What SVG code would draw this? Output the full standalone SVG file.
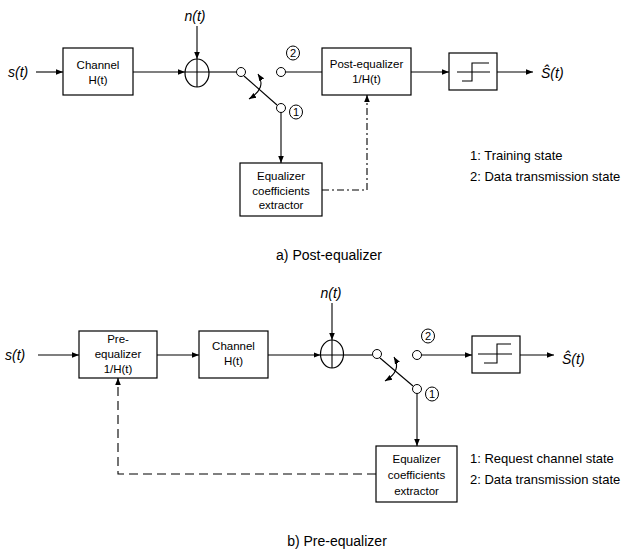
<svg xmlns="http://www.w3.org/2000/svg" width="624" height="556" viewBox="0 0 624 556">
<defs>
<marker id="ah" viewBox="0 0 10 10" refX="10" refY="5" markerWidth="7" markerHeight="7" markerUnits="userSpaceOnUse" orient="auto-start-reverse">
<path d="M0,1 L10,5 L0,9 z" fill="#000"/>
</marker>
<style>
text{font-family:"Liberation Sans",Arial,sans-serif;fill:#000}
.bt{font-size:11.5px;text-anchor:middle}
.it{font-style:italic;font-size:14px}
.lg{font-size:13px}
.cap{font-size:14px;text-anchor:middle}
.num{font-size:11px;text-anchor:middle}
.box{fill:#fff;stroke:#000;stroke-width:1.2}
.ln{fill:none;stroke:#000;stroke-width:1.1}
.arr{fill:none;stroke:#000;stroke-width:1.1;marker-end:url(#ah)}
.sw{fill:#fff;stroke:#000;stroke-width:1}
.lab{fill:none;stroke:#000;stroke-width:1}
</style>
</defs>
<rect width="624" height="556" fill="#fff"/>

<!-- ===== a) Post-equalizer ===== -->
<g id="connectors-a">
<path class="arr" d="M36,72 H63"/>
<path class="arr" d="M133,72 H185"/>
<path class="arr" d="M197,26 V59"/>
<path class="ln" d="M209,72 H236.5"/>
<path class="ln" d="M244,76 L277,105"/>
<path class="ln" d="M285.5,72 H322"/>
<path class="arr" d="M411,72 H449"/>
<path class="arr" d="M497,72 H533"/>
<path class="arr" d="M281,112.5 V163"/>
<path class="arr" d="M322,190 H367 V95" stroke-dasharray="7,3,2,3" stroke-width="1.5"/>
<path class="ln" d="M258,74 Q267,88 249,99" marker-start="url(#ah)" marker-end="url(#ah)"/>
</g>
<g id="src-a"><text class="it" x="8" y="77">s(t)</text></g>
<g id="noise-a"><text class="it" x="195" y="21" text-anchor="middle">n(t)</text></g>
<g id="channel-a">
<rect class="box" x="63" y="48" width="70" height="47"/>
<text class="bt" x="98" y="69">Channel</text>
<text class="bt" x="98" y="84">H(t)</text>
</g>
<g id="adder-a">
<ellipse class="box" cx="197" cy="73" rx="12" ry="14"/>
<path class="ln" d="M185,72 H209 M197,59 V87"/>
</g>
<g id="switch-a">
<circle class="sw" cx="241" cy="72" r="4.5"/>
<circle class="sw" cx="281" cy="72" r="4.5"/>
<circle class="sw" cx="281" cy="108" r="4.5"/>
<ellipse class="lab" cx="293" cy="53" rx="6.5" ry="7"/>
<text class="num" x="293" y="57">2</text>
<ellipse class="lab" cx="296" cy="112" rx="6.5" ry="7"/>
<text class="num" x="296" y="116">1</text>
</g>
<g id="posteq-a">
<rect class="box" x="322" y="48" width="89" height="47"/>
<text class="bt" x="366.5" y="68">Post-equalizer</text>
<text class="bt" x="366.5" y="83">1/H(t)</text>
</g>
<g id="quant-a">
<rect class="box" x="449" y="53" width="48" height="37"/>
<path class="ln" d="M457,72 H490 M462,81 H472 V63 H489"/>
</g>
<g id="out-a">
<text class="it" x="541" y="78" font-size="13">Ŝ(t)</text>
</g>
<g id="eqx-a">
<rect class="box" x="240" y="163" width="82" height="53"/>
<text class="bt" x="281" y="180">Equalizer</text>
<text class="bt" x="281" y="195">coefficients</text>
<text class="bt" x="281" y="209">extractor</text>
</g>
<g id="legend-a">
<text class="lg" x="470" y="160">1: Training state</text>
<text class="lg" x="470" y="181">2: Data transmission state</text>
</g>
<g id="caption-a"><text class="cap" x="329" y="260">a) Post-equalizer</text></g>

<!-- ===== b) Pre-equalizer ===== -->
<g id="connectors-b">
<path class="arr" d="M38,355 H79"/>
<path class="arr" d="M157,355 H199"/>
<path class="arr" d="M268,355 H320.5"/>
<path class="arr" d="M332,303 V340"/>
<path class="ln" d="M343.5,355 H372.5"/>
<path class="ln" d="M380,358 L413,386"/>
<path class="arr" d="M421.5,355 H472"/>
<path class="arr" d="M520,355 H554"/>
<path class="arr" d="M417,393.5 V446"/>
<path class="arr" d="M376,474 H118 V378" stroke-dasharray="9,5" stroke-width="1.8"/>
<path class="ln" d="M394,357 Q402,371 385,381" marker-start="url(#ah)" marker-end="url(#ah)"/>
</g>
<g id="src-b"><text class="it" x="5" y="360">s(t)</text></g>
<g id="noise-b"><text class="it" x="331" y="298" text-anchor="middle">n(t)</text></g>
<g id="preeq-b">
<rect class="box" x="79" y="331" width="78" height="47"/>
<text class="bt" x="118" y="343">Pre-</text>
<text class="bt" x="118" y="358">equalizer</text>
<text class="bt" x="118" y="373">1/H(t)</text>
</g>
<g id="channel-b">
<rect class="box" x="199" y="331" width="69" height="47"/>
<text class="bt" x="233.5" y="350">Channel</text>
<text class="bt" x="233.5" y="365">H(t)</text>
</g>
<g id="adder-b">
<ellipse class="box" cx="332" cy="354" rx="11.5" ry="14"/>
<path class="ln" d="M320.5,355 H343.5 M332,340 V368"/>
</g>
<g id="switch-b">
<circle class="sw" cx="377" cy="354" r="4.5"/>
<circle class="sw" cx="417" cy="355" r="4.5"/>
<circle class="sw" cx="417" cy="389" r="4.5"/>
<ellipse class="lab" cx="428" cy="336" rx="6.5" ry="7"/>
<text class="num" x="428" y="340">2</text>
<ellipse class="lab" cx="432" cy="394" rx="6.5" ry="7"/>
<text class="num" x="432" y="398">1</text>
</g>
<g id="quant-b">
<rect class="box" x="472" y="336" width="48" height="37"/>
<path class="ln" d="M478,354 H512 M484,363 H497 V344 H511"/>
</g>
<g id="out-b">
<text class="it" x="562" y="364" font-size="13">Ŝ(t)</text>
</g>
<g id="eqx-b">
<rect class="box" x="376" y="446" width="81" height="56"/>
<text class="bt" x="416.5" y="463">Equalizer</text>
<text class="bt" x="416.5" y="479">coefficients</text>
<text class="bt" x="416.5" y="495">extractor</text>
</g>
<g id="legend-b">
<text class="lg" x="470" y="463">1: Request channel state</text>
<text class="lg" x="470" y="484">2: Data transmission state</text>
</g>
<g id="caption-b"><text class="cap" x="337" y="546">b) Pre-equalizer</text></g>
</svg>
